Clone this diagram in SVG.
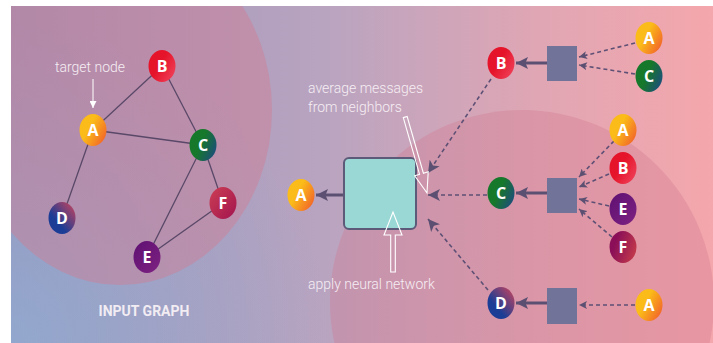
<svg xmlns="http://www.w3.org/2000/svg" width="713" height="343" viewBox="0 0 713 343">
<defs>
<linearGradient id="bg" x1="0" y1="0" x2="1" y2="0">
<stop offset="0" stop-color="#9a93ba"/>
<stop offset="0.45" stop-color="#b9a4c0"/>
<stop offset="0.75" stop-color="#e0a6b4"/>
<stop offset="1" stop-color="#f4a7ac"/>
</linearGradient>
<radialGradient id="blue" gradientUnits="userSpaceOnUse" cx="11" cy="343" r="320">
<stop offset="0" stop-color="#8fb0d6" stop-opacity="0.7"/>
<stop offset="1" stop-color="#8fb0d6" stop-opacity="0"/>
</radialGradient>
<clipPath id="clip"><rect x="11" y="6" width="702" height="337"/></clipPath>
<linearGradient id="gA" x1="0.15" y1="0.2" x2="1" y2="0.75"><stop offset="0.3" stop-color="#fbbb18"/><stop offset="1" stop-color="#f2652a"/></linearGradient>
<linearGradient id="gB" x1="0" y1="0.2" x2="1" y2="0.9"><stop offset="0.4" stop-color="#e5142a"/><stop offset="1" stop-color="#f0445c"/></linearGradient>
<linearGradient id="gC" x1="0" y1="0.3" x2="1" y2="0.8"><stop offset="0.4" stop-color="#16782a"/><stop offset="1" stop-color="#1d4c80"/></linearGradient>
<linearGradient id="gD" x1="0" y1="1" x2="1" y2="0"><stop offset="0.35" stop-color="#1c3d95"/><stop offset="1" stop-color="#d2445a"/></linearGradient>
<linearGradient id="gE" x1="0" y1="0" x2="1" y2="1"><stop offset="0" stop-color="#5e1072"/><stop offset="1" stop-color="#7e2282"/></linearGradient>
<linearGradient id="gF" x1="0" y1="0" x2="1" y2="1"><stop offset="0" stop-color="#cc3e54"/><stop offset="1" stop-color="#a2154e"/></linearGradient>
<linearGradient id="gF2" x1="0" y1="0.3" x2="1" y2="0.7"><stop offset="0.2" stop-color="#8a0f58"/><stop offset="1" stop-color="#c43a4a"/></linearGradient>
<marker id="hBig" viewBox="0 0 12 12" refX="12" refY="6" markerWidth="12" markerHeight="12" markerUnits="userSpaceOnUse" orient="auto"><path d="M0,0 L12,6 L0,12 L3,6 Z" fill="#5c5072"/></marker>
<marker id="hSmall" viewBox="0 0 8 8" refX="8" refY="4" markerWidth="8" markerHeight="8" markerUnits="userSpaceOnUse" orient="auto"><path d="M0,0 L8,4 L0,8 L2,4 Z" fill="#5c5072"/></marker>
<marker id="hSolid" viewBox="0 0 12 12" refX="12" refY="6" markerWidth="12" markerHeight="12" markerUnits="userSpaceOnUse" orient="auto"><path d="M0,0 L12,6 L0,12 L2.5,6 Z" fill="#5c5072"/></marker>
<marker id="hWhite" viewBox="0 0 8 8" refX="8" refY="4" markerWidth="8" markerHeight="7" markerUnits="userSpaceOnUse" orient="auto"><path d="M0,0 L8,4 L0,8 Z" fill="#ffffff"/></marker>
<style>
.lbl{font-family:"Open Sans","DejaVu Sans",sans-serif;font-weight:700;font-size:16px;fill:#ffffff;text-anchor:middle}
.note{font-family:Roboto,"Liberation Sans",sans-serif;font-weight:300;font-size:14px;fill:#f6eef4}
.edge{stroke:#5a4868;stroke-width:1.3;fill:none}
.dash{stroke:#5e5075;stroke-width:1.6;stroke-dasharray:4 3;fill:none}
.solid{stroke:#5c5072;stroke-width:3;fill:none}
.agg{fill:#727398}
.hollow{fill:none;stroke:#ffffff;stroke-width:1.1}
</style>
</defs>

<g id="background">
<rect x="0" y="0" width="713" height="343" fill="#ffffff"/>
<rect x="11" y="6" width="702" height="337" fill="url(#bg)"/>
<rect x="11" y="6" width="702" height="337" fill="url(#blue)"/>
<g clip-path="url(#clip)">
<ellipse cx="120" cy="110" rx="152" ry="175" fill="#d47a8f" fill-opacity="0.42"/>
<circle cx="522" cy="302" r="192" fill="#d07890" fill-opacity="0.35"/>
</g>
</g>

<g id="connectors">
<line class="edge" x1="93" y1="130" x2="162" y2="66"/>
<line class="edge" x1="93" y1="130" x2="203" y2="145"/>
<line class="edge" x1="162" y1="66" x2="203" y2="145"/>
<line class="edge" x1="93" y1="130" x2="62" y2="218"/>
<line class="edge" x1="203" y1="145" x2="147" y2="257"/>
<line class="edge" x1="203" y1="145" x2="223" y2="203"/>
<line class="edge" x1="223" y1="203" x2="147" y2="257"/>
<line x1="93" y1="79" x2="93" y2="108" stroke="#ffffff" stroke-width="1" marker-end="url(#hWhite)"/>

<line class="solid" x1="344" y1="195" x2="316" y2="195" marker-end="url(#hSolid)"/>
<line class="dash" x1="491" y1="79" x2="428" y2="173" marker-end="url(#hBig)"/>
<line class="dash" x1="487" y1="195" x2="428" y2="195" marker-end="url(#hBig)"/>
<line class="dash" x1="488" y1="290" x2="428" y2="219" marker-end="url(#hBig)"/>

<line class="solid" x1="547" y1="63" x2="516" y2="63" marker-end="url(#hSolid)"/>
<line class="solid" x1="547" y1="193" x2="516" y2="193" marker-end="url(#hSolid)"/>
<line class="solid" x1="547" y1="303" x2="516" y2="303" marker-end="url(#hSolid)"/>

<line class="dash" x1="635" y1="43" x2="579" y2="57" marker-end="url(#hSmall)"/>
<line class="dash" x1="635" y1="74" x2="579" y2="65" marker-end="url(#hSmall)"/>
<line class="dash" x1="614" y1="141" x2="579" y2="177" marker-end="url(#hSmall)"/>
<line class="dash" x1="609" y1="174" x2="579" y2="187" marker-end="url(#hSmall)"/>
<line class="dash" x1="609" y1="206" x2="579" y2="199" marker-end="url(#hSmall)"/>
<line class="dash" x1="612" y1="237" x2="579" y2="209" marker-end="url(#hSmall)"/>
<line class="dash" x1="635" y1="305" x2="579" y2="305" marker-end="url(#hSmall)"/>
</g>

<g id="texts">
<text class="note" x="55" y="72">target node</text>
<text class="note" x="308" y="93">average messages</text>
<text class="note" x="308" y="112">from neighbors</text>
<text class="note" x="308" y="289">apply neural network</text>
<text x="144" y="316" text-anchor="middle" font-family="Roboto,'Liberation Sans',sans-serif" font-weight="700" font-size="14" fill="#f2ecf3">INPUT GRAPH</text>
</g>

<g id="nn-box">
<rect x="344" y="158" width="72" height="71" rx="5" fill="#9ad8d5" stroke="#5c5a78" stroke-width="2"/>
</g>
<g id="agg-boxes">
<rect class="agg" x="547" y="46" width="30" height="35"/>
<rect class="agg" x="547" y="178" width="30" height="35"/>
<rect class="agg" x="547" y="288" width="30" height="36"/>
</g>

<g id="hollow-arrows">
<polygon class="hollow" transform="translate(427,193) rotate(-16)" points="-2,-79 2,-79 2,-20 7,-20 0,0 -7,-20 -2,-20"/>
<polygon class="hollow" transform="translate(393,212) rotate(180)" points="-2.3,-60 2.3,-60 2.3,-23 9,-23 0,0 -9,-23 -2.3,-23"/>
</g>

<g id="node-A"><ellipse cx="93" cy="130" rx="13.5" ry="16" fill="url(#gA)"/><text class="lbl" x="93" y="136">A</text></g>
<g id="node-B"><ellipse cx="162" cy="66" rx="13.5" ry="16" fill="url(#gB)"/><text class="lbl" x="162" y="72">B</text></g>
<g id="node-C"><ellipse cx="203" cy="145" rx="13.5" ry="16" fill="url(#gC)"/><text class="lbl" x="203" y="151">C</text></g>
<g id="node-D"><ellipse cx="62" cy="218" rx="13.5" ry="16" fill="url(#gD)"/><text class="lbl" x="62" y="224">D</text></g>
<g id="node-E"><ellipse cx="147" cy="257" rx="13.5" ry="16" fill="url(#gE)"/><text class="lbl" x="147" y="263">E</text></g>
<g id="node-F"><ellipse cx="223" cy="203" rx="13.5" ry="16" fill="url(#gF)"/><text class="lbl" x="223" y="209">F</text></g>

<g id="out-A"><ellipse cx="301" cy="195" rx="13.5" ry="16" fill="url(#gA)"/><text class="lbl" x="301" y="201">A</text></g>

<g id="mid-B"><ellipse cx="501" cy="63" rx="13.5" ry="16" fill="url(#gB)"/><text class="lbl" x="501" y="69">B</text></g>
<g id="mid-C"><ellipse cx="501" cy="193" rx="13.5" ry="16" fill="url(#gC)"/><text class="lbl" x="501" y="199">C</text></g>
<g id="mid-D"><ellipse cx="501" cy="303" rx="13.5" ry="16" fill="url(#gD)"/><text class="lbl" x="501" y="309">D</text></g>

<g id="in-B-A"><ellipse cx="649" cy="38" rx="13.5" ry="16" fill="url(#gA)"/><text class="lbl" x="649" y="44">A</text></g>
<g id="in-B-C"><ellipse cx="649" cy="76" rx="13.5" ry="16" fill="url(#gC)"/><text class="lbl" x="649" y="82">C</text></g>
<g id="in-C-A"><ellipse cx="623" cy="130" rx="13.5" ry="16" fill="url(#gA)"/><text class="lbl" x="623" y="136">A</text></g>
<g id="in-C-B"><ellipse cx="623" cy="168" rx="13.5" ry="16" fill="url(#gB)"/><text class="lbl" x="623" y="174">B</text></g>
<g id="in-C-E"><ellipse cx="623" cy="209" rx="13.5" ry="16" fill="url(#gE)"/><text class="lbl" x="623" y="215">E</text></g>
<g id="in-C-F"><ellipse cx="623" cy="247" rx="13.5" ry="16" fill="url(#gF2)"/><text class="lbl" x="623" y="253">F</text></g>
<g id="in-D-A"><ellipse cx="649" cy="305" rx="13.5" ry="16" fill="url(#gA)"/><text class="lbl" x="649" y="311">A</text></g>
</svg>
